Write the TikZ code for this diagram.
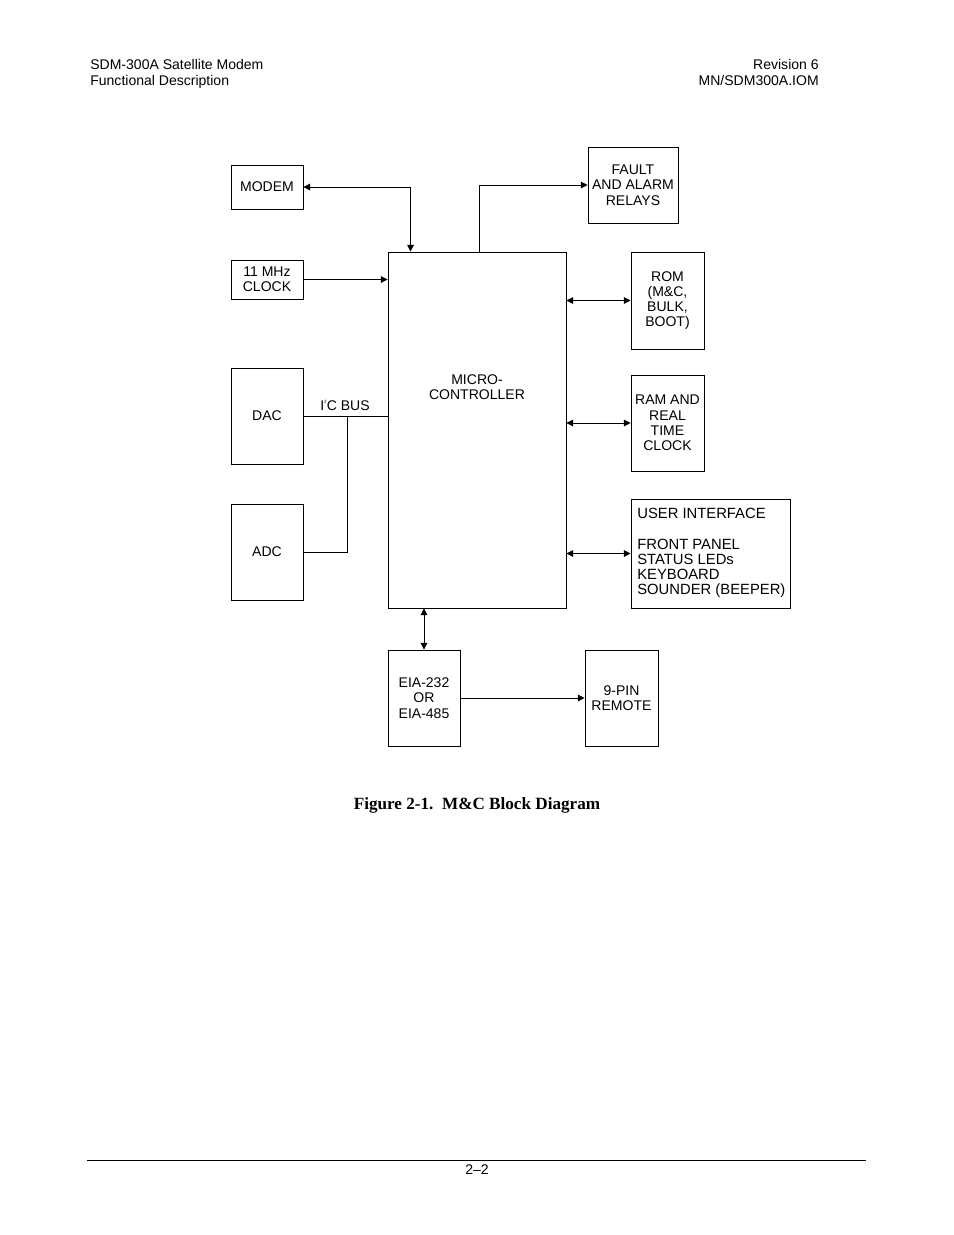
\documentclass[tikz,border=0pt]{standalone}
\usepackage{fontspec}
\setmainfont{Liberation Sans}
\newfontfamily\capfont{Liberation Serif}
\usetikzlibrary{arrows.meta}
\begin{document}
\def\u{0.6415pt}
\begin{tikzpicture}[x=\u,y=-\u,
  every node/.style={inner sep=0pt, font=\fontsize{9}{9.8}\selectfont},
  box/.style={draw, line width=0.6pt, align=center},
  conn/.style={line width=0.6pt},
  tip/.style={conn, -{Triangle[length=4.3pt,width=4.3pt]}},
  dbl/.style={conn, {Triangle[length=4.3pt,width=4.3pt]}-{Triangle[length=4.3pt,width=4.3pt]}},
  hdr/.style={font=\fontsize{9}{10.3}\selectfont}]
\useasboundingbox (0,0) rectangle (954,1235);
% header
\node[hdr, anchor=base west] (h1) at (90,69.5) {SDM-300A Satellite Modem};
\node[hdr, anchor=base west] (h2) at (90,85.5) {Functional Description};
\node[hdr, anchor=base east] (h3) at (819,69.5) {Revision 6};
\node[hdr, anchor=base east] (h4) at (819,85.5) {MN/SDM300A.IOM};
% footer
\draw[line width=0.6pt] (87,1160) -- (866,1160);
\node[hdr, anchor=base] (pg) at (477,1174.5) {2--2};
% boxes
\node[box, minimum width=72*\u, minimum height=44*\u] (modem) at (267,187) {MODEM};
\node[box, minimum width=72*\u, minimum height=39*\u] (clock) at (267,279.5) {11 MHz\\CLOCK};
\node[box, minimum width=72*\u, minimum height=96*\u] (dac) at (267,416) {DAC};
\node[box, minimum width=72*\u, minimum height=96*\u] (adc) at (267,552) {ADC};
\node[box, minimum width=178*\u, minimum height=356*\u] (mc) at (477,430) {};
\node[align=center] (mct) at (477,387) {MICRO-\\CONTROLLER};
\node[box, minimum width=90*\u, minimum height=76*\u] (fault) at (633,185) {FAULT\\AND ALARM\\RELAYS};
\node[box, minimum width=73*\u, minimum height=97*\u] (rom) at (667.5,300.5) {ROM\\(M\&C,\\BULK,\\BOOT)};
\node[box, minimum width=73*\u, minimum height=96*\u] (ram) at (667.5,423) {RAM AND\\REAL\\TIME\\CLOCK};
\node[box, minimum width=159*\u, minimum height=109*\u] (ui) at (710.5,553.5) {};
\node[align=left, anchor=west, font=\fontsize{9.5}{9.8}\selectfont] (uit) at (637,553)
  {USER INTERFACE\\[9.8pt]FRONT PANEL\\STATUS LEDs\\KEYBOARD\\SOUNDER (BEEPER)};
\node[box, minimum width=72*\u, minimum height=96*\u] (eia) at (424,698) {EIA-232\\OR\\EIA-485};
\node[box, minimum width=73*\u, minimum height=96*\u] (pin) at (621.5,698) {9-PIN\\REMOTE};
% connectors
\draw[dbl] (modem.east) -| ([xshift=23*\u]mc.north west);
\draw[tip] ([xshift=92*\u]mc.north west) |- (fault.west);
\draw[tip] (clock.east) -- (clock.east -| mc.west);
\draw[dbl] (rom.west -| mc.east) -- (rom.west);
\draw[dbl] (ram.west -| mc.east) -- (ram.west);
\draw[dbl] (ui.west -| mc.east) -- (ui.west);
\draw[dbl] (eia.north |- mc.south) -- (eia.north);
\draw[tip] (eia.east) -- (pin.west);
% I2C bus
\coordinate (bus) at (347,416);
\draw[conn] (dac.east) -- (dac.east -| mc.west);
\draw[conn] (adc.east) -| (bus);
\node (i2c) at (345,405.5) {I\raisebox{0.9ex}{\fontsize{3}{3}\selectfont 2}C BUS};
% caption
\node[anchor=base, font=\capfont\bfseries\fontsize{11}{13}\selectfont] (cap) at (477,809) {Figure 2-1.\ \ M\&C Block Diagram};
\end{tikzpicture}
\end{document}
